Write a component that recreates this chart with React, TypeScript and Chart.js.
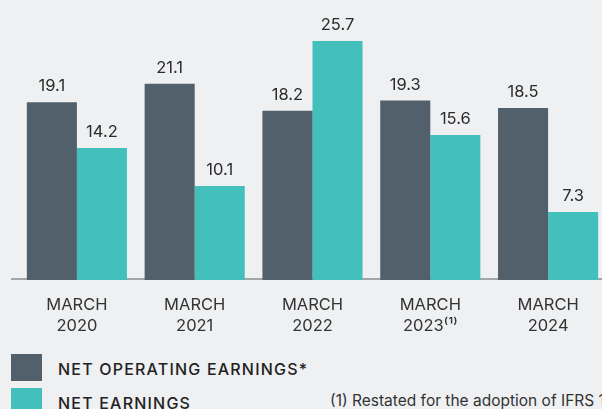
import React, { useEffect, useRef } from "react";
import { Chart, registerables } from "chart.js";

Chart.register(...registerables);

const years = ["2020", "2021", "2022", "2023\u207D\u00B9\u207E", "2024"];
const monthLabel = "MARCH";
const netOperatingEarnings = [19.1, 21.1, 18.2, 19.3, 18.5];
const netEarnings = [14.2, 10.1, 25.7, 15.6, 7.3];
const seriesNames = ["NET OPERATING EARNINGS*", "NET EARNINGS"];
const seriesColors = ["#52606b", "#43c0bc"];
const footnote = "(1) Restated for the adoption of IFRS 17";

const BG = "#eff0f2";
const FONT = "Inter, 'Noto Sans', sans-serif";

const baselinePlugin = {
  id: "baseline",
  beforeDatasetsDraw(chart: any) {
    const y = chart.scales.y.getPixelForValue(0);
    const ctx = chart.ctx;
    ctx.save();
    ctx.strokeStyle = "#a2a6ab";
    ctx.lineWidth = 2;
    ctx.beginPath();
    ctx.moveTo(11, y - 1);
    ctx.lineTo(chart.width, y - 1);
    ctx.stroke();
    ctx.restore();
  },
};

const valueLabelPlugin = {
  id: "valueLabels",
  afterDatasetsDraw(chart: any) {
    const ctx = chart.ctx;
    ctx.save();
    ctx.font = `400 16.5px ${FONT}`;
    ctx.fillStyle = "#2b2b2b";
    ctx.textAlign = "center";
    ctx.textBaseline = "alphabetic";
    chart.data.datasets.forEach((ds: any, di: number) => {
      const meta = chart.getDatasetMeta(di);
      meta.data.forEach((bar: any, i: number) => {
        ctx.fillText(String(ds.data[i].toFixed(1)), bar.x, bar.y - 11);
      });
    });
    ctx.restore();
  },
};

export default function App() {
  const canvasRef = useRef<HTMLCanvasElement | null>(null);

  useEffect(() => {
    if (!canvasRef.current) return;
    const chart = new Chart(canvasRef.current, {
      type: "bar",
      data: {
        labels: years.map((y) => [monthLabel, y]),
        datasets: [
          {
            label: seriesNames[0],
            data: netOperatingEarnings,
            backgroundColor: seriesColors[0],
            borderWidth: 0,
            categoryPercentage: 0.85,
            barPercentage: 1.0,
          },
          {
            label: seriesNames[1],
            data: netEarnings,
            backgroundColor: seriesColors[1],
            borderWidth: 0,
            categoryPercentage: 0.85,
            barPercentage: 1.0,
          },
        ],
      },
      options: {
        responsive: false,
        devicePixelRatio: 1,
        animation: false,
        layout: { padding: { left: 18, right: 0, top: 1, bottom: 0 } },
        plugins: {
          legend: { display: false },
          tooltip: { enabled: false },
        },
        scales: {
          x: {
            grid: { display: false },
            border: { display: false },
            ticks: {
              color: "#333333",
              padding: 7,
              font: { family: FONT, size: 16.5, lineHeight: 1.27 },
              maxRotation: 0,
              autoSkip: false,
            },
            afterFit: (scale: any) => {
              scale.height = 60;
            },
          },
          y: {
            display: false,
            min: 0,
            max: 30,
          },
        },
      },
      plugins: [baselinePlugin, valueLabelPlugin],
    });
    return () => chart.destroy();
  }, []);

  const legendText: React.CSSProperties = {
    position: "absolute",
    left: 58,
    fontFamily: FONT,
    fontSize: 16,
    lineHeight: "16px",
    fontWeight: 500,
    letterSpacing: "1.2px",
    color: "#222222",
    whiteSpace: "nowrap",
  };

  return (
    <div
      style={{
        position: "fixed",
        left: 0,
        top: 0,
        width: 602,
        height: 409,
        overflow: "hidden",
        background: BG,
      }}
    >
      <canvas
        ref={canvasRef}
        width={607}
        height={340}
        style={{ position: "absolute", left: 0, top: 0, display: "block" }}
      />
      <div style={{ position: "absolute", left: 11, top: 354, width: 31, height: 27, background: seriesColors[0] }} />
      <div style={{ position: "absolute", left: 11, top: 388, width: 31, height: 27, background: seriesColors[1] }} />
      <div style={{ ...legendText, top: 360.5 }}>{seriesNames[0]}</div>
      <div style={{ ...legendText, top: 394.5 }}>{seriesNames[1]}</div>
      <div
        style={{
          position: "absolute",
          left: 330,
          top: 393,
          fontFamily: FONT,
          fontSize: 15.5,
          lineHeight: "15.5px",
          color: "#333333",
          whiteSpace: "nowrap",
        }}
      >
        {footnote}
      </div>
    </div>
  );
}
